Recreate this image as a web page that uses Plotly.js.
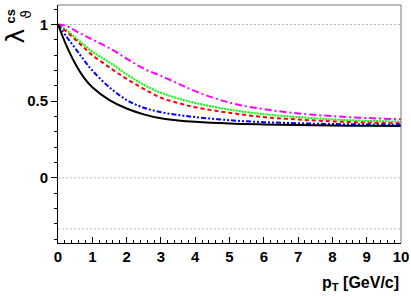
<!DOCTYPE html>
<html>
<head>
<meta charset="utf-8">
<script src="https://cdn.plot.ly/plotly-3.0.1.min.js"></script>
<style>html,body{margin:0;padding:0;background:#fff;}#chart{width:411px;height:297px;}</style>
</head>
<body>
<div id="chart"></div>
<script>
// pT values (GeV/c)
var pt = [0, 0.25, 0.5, 0.75, 1, 1.5, 2, 2.5, 3, 3.5, 4, 5, 6, 7, 8, 9, 10];
// lambda_theta^CS curves
var curveBlack   = [1.0, 0.86, 0.745, 0.655, 0.59, 0.507, 0.452, 0.414, 0.388, 0.374, 0.365, 0.354, 0.348, 0.344, 0.341, 0.339, 0.338];
var curveBlue    = [1.0, 0.92, 0.845, 0.77, 0.70, 0.59, 0.508, 0.457, 0.428, 0.41, 0.396, 0.376, 0.363, 0.356, 0.351, 0.348, 0.346];
var curveRed     = [1.0, 0.953, 0.902, 0.85, 0.80, 0.72, 0.645, 0.58, 0.522, 0.488, 0.46, 0.424, 0.396, 0.38, 0.368, 0.36, 0.355];
var curveGreen   = [1.0, 0.962, 0.915, 0.868, 0.822, 0.753, 0.675, 0.607, 0.555, 0.518, 0.488, 0.445, 0.415, 0.396, 0.381, 0.372, 0.366];
var curveMagenta = [1.0, 0.99, 0.96, 0.93, 0.902, 0.845, 0.778, 0.712, 0.665, 0.615, 0.565, 0.49, 0.448, 0.42, 0.402, 0.39, 0.382];
// reference lines
var refLines = [1, 0, -1/3];
var xTickVals = [0,1,2,3,4,5,6,7,8,9,10];
var yTickVals = [0, 0.5, 1];
var yTickText = ['0', '0.5', '1'];

var F = 'Liberation Sans, Arial, sans-serif';
function tr(y, color, dash) {
  return {x: pt, y: y, mode: 'lines', line: {color: color, width: 2, dash: dash, shape: 'spline', smoothing: 1}, hoverinfo: 'none'};
}
var data = [
  tr(curveMagenta, '#ff00ff', '7px,3px,2px,3px'),
  tr(curveGreen, '#00ff00', '2px,1px'),
  tr(curveRed, '#ff0000', '4px,3px'),
  tr(curveBlue, '#0000ff', '5px,2px,2px,2px,2px,2px'),
  tr(curveBlack, '#000000', 'solid')
];
var shapes = refLines.map(function(v){
  return {type: 'line', xref: 'x', yref: 'y', x0: 0, x1: 10, y0: v, y1: v, line: {color: '#bbbbbb', width: 1, dash: '2px,2px'}, layer: 'below'};
});
shapes.push({type: 'line', xref: 'paper', yref: 'paper', x0: 0, x1: 1, y0: 1, y1: 1, line: {color: '#777777', width: 1}});
shapes.push({type: 'line', xref: 'paper', yref: 'paper', x0: 1, x1: 1, y0: 0, y1: 1, line: {color: '#777777', width: 1}});

var layout = {
  width: 411, height: 297,
  margin: {l: 58, r: 10, t: 5, b: 54},
  paper_bgcolor: '#fff', plot_bgcolor: '#fff',
  showlegend: false,
  xaxis: {
    range: [0, 10], tickvals: xTickVals, ticks: 'inside', ticklen: 6, tickcolor: '#000',
    minor: {dtick: 0.2, ticks: 'inside', ticklen: 3, tickcolor: '#000'},
    showline: true, linecolor: '#000', linewidth: 1, showgrid: false, zeroline: false,
    tickfont: {family: F, size: 15, color: '#000', weight: 'bold'}
  },
  yaxis: {
    range: [-0.425, 1.127], tickvals: yTickVals, ticktext: yTickText, ticks: 'outside', ticklen: 6, tickcolor: '#000',
    minor: {dtick: 0.1, tick0: 0, ticks: 'outside', ticklen: 3, tickcolor: '#000'},
    showline: true, linecolor: '#000', linewidth: 1, showgrid: false, zeroline: false,
    tickfont: {family: F, size: 15, color: '#000', weight: 'bold'}
  },
  shapes: shapes,
  annotations: [
    {xref: 'paper', yref: 'paper', x: -0.125, y: 0.868, xanchor: 'center', yanchor: 'middle', textangle: -90, showarrow: false,
     text: 'λ', font: {family: 'DejaVu Sans, sans-serif', size: 25, color: '#000'}},
    {xref: 'paper', yref: 'paper', x: -0.138, y: 0.950, xanchor: 'center', yanchor: 'middle', textangle: -90, showarrow: false,
     text: '<b>cs</b>', font: {family: F, size: 13, color: '#000'}},
    {xref: 'paper', yref: 'paper', x: -0.094, y: 0.962, xanchor: 'center', yanchor: 'middle', textangle: -90, showarrow: false,
     text: 'ϑ', font: {family: 'DejaVu Sans, sans-serif', size: 14, color: '#000'}},
    {xref: 'paper', yref: 'paper', x: 1.0, y: -0.17, xanchor: 'right', yanchor: 'middle', showarrow: false,
     text: '<b>p<sub>T</sub> [GeV/c]</b>', font: {family: F, size: 16, color: '#000'}}
  ]
};
Plotly.newPlot('chart', data, layout, {staticPlot: true, displayModeBar: false});
</script>
</body>
</html>
